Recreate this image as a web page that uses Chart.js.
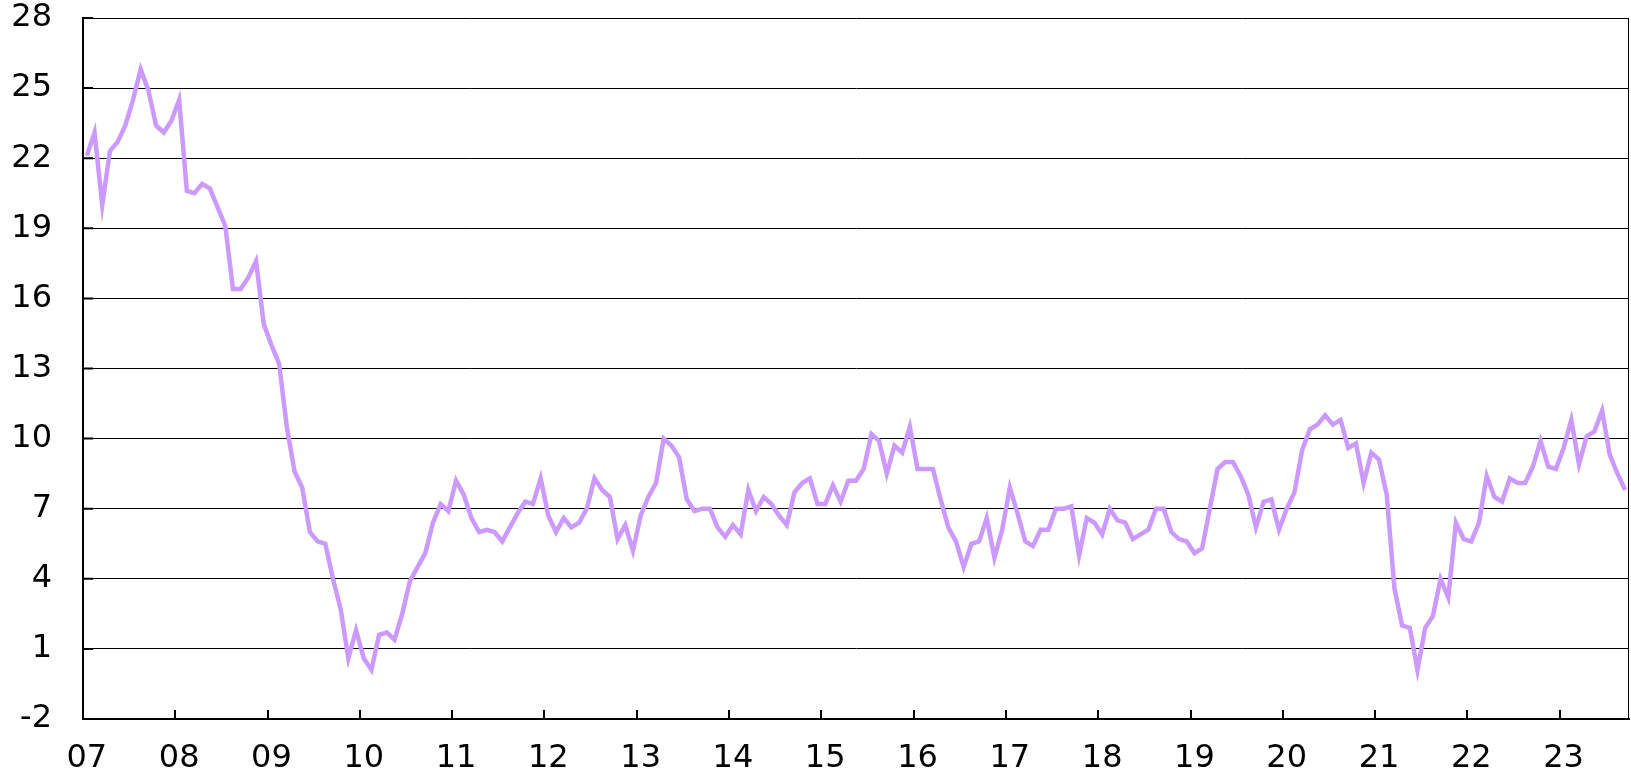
<!DOCTYPE html>
<html>
<head>
<meta charset="utf-8">
<script src="https://cdn.jsdelivr.net/npm/chart.js@4.4.1/dist/chart.umd.min.js"></script>
<style>
  html, body { margin: 0; padding: 0; overflow: hidden; background: #fff; }
  #myChart { display: block; }
</style>
</head>
<body>
<canvas id="myChart" width="1631" height="776"></canvas>
<script>
// monthly series, Jan 2007 .. Sep 2023
var startYear = 2007;
var yearLabels = ["07", "08", "09", "10", "11", "12", "13", "14", "15", "16", "17", "18", "19", "20", "21", "22", "23"];
var yTicks = [-2, 1, 4, 7, 10, 13, 16, 19, 22, 25, 28];
var values = [
  22.1, 23.1, 20.0, 22.3, 22.7, 23.4, 24.5, 25.8, 24.9, 23.4, 23.1, 23.6, // 07
  24.5, 20.6, 20.5, 20.9, 20.7, 19.9, 19.1, 16.4, 16.4, 16.9, 17.6, 14.9, // 08
  14.0, 13.2, 10.5, 8.6, 7.9, 6.0, 5.6, 5.5, 4.0, 2.7, 0.6, 1.8,          // 09
  0.6, 0.1, 1.6, 1.7, 1.4, 2.5, 3.9, 4.5, 5.1, 6.4, 7.2, 6.9,             // 10
  8.2, 7.6, 6.6, 6.0, 6.1, 6.0, 5.6, 6.2, 6.8, 7.3, 7.2, 8.3,             // 11
  6.7, 6.0, 6.6, 6.2, 6.4, 7.0, 8.3, 7.8, 7.5, 5.7, 6.3, 5.2,             // 12
  6.7, 7.5, 8.1, 10.0, 9.7, 9.2, 7.4, 6.9, 7.0, 7.0, 6.2, 5.8,            // 13
  6.3, 5.9, 7.8, 6.9, 7.5, 7.2, 6.7, 6.3, 7.7, 8.1, 8.3, 7.2,             // 14
  7.2, 8.0, 7.3, 8.2, 8.2, 8.7, 10.2, 9.9, 8.5, 9.7, 9.4, 10.5,           // 15
  8.7, 8.7, 8.7, 7.4, 6.2, 5.6, 4.5, 5.5, 5.6, 6.6, 4.9, 6.1,             // 16
  7.9, 6.8, 5.6, 5.4, 6.1, 6.1, 7.0, 7.0, 7.1, 5.0, 6.6, 6.4,             // 17
  5.9, 7.0, 6.5, 6.4, 5.7, 5.9, 6.1, 7.0, 7.0, 6.0, 5.7, 5.6,             // 18
  5.1, 5.3, 7.0, 8.7, 9.0, 9.0, 8.4, 7.6, 6.2, 7.3, 7.4, 6.1,             // 19
  7.0, 7.7, 9.5, 10.4, 10.6, 11.0, 10.6, 10.8, 9.6, 9.8, 8.1, 9.4,        // 20
  9.1, 7.6, 3.6, 2.0, 1.9, 0.1, 1.9, 2.4, 4.0, 3.2, 6.4, 5.7,             // 21
  5.6, 6.4, 8.4, 7.5, 7.3, 8.3, 8.1, 8.1, 8.8, 9.9, 8.8, 8.7,             // 22
  9.6, 10.8, 8.9, 10.1, 10.3, 11.2, 9.3, 8.5, 7.8                          // 23
];

var months = values.map(function (v, i) {
  var yr = startYear + Math.floor(i / 12);
  var m = (i % 12) + 1;
  return yr + "-" + (m < 10 ? "0" + m : m);
});

var fontSpec = { family: "'DejaVu Sans', sans-serif", size: 32 };

// inward tick marks and right frame line
var innerTicks = {
  id: "innerTicks",
  afterDraw: function (chart) {
    var ctx = chart.ctx;
    var a = chart.chartArea;
    var x = chart.scales.x;
    var y = chart.scales.y;
    ctx.save();
    ctx.strokeStyle = "#000";
    ctx.lineWidth = 1;
    ctx.beginPath();
    ctx.moveTo(a.right - 0.5, a.top);
    ctx.lineTo(a.right - 0.5, a.bottom);
    ctx.stroke();
    ctx.lineWidth = 2;
    ctx.beginPath();
    for (var i = 12; i < months.length; i += 12) {
      var px = Math.round((x.getPixelForValue(i - 1) + x.getPixelForValue(i)) / 2);
      ctx.moveTo(px, a.bottom);
      ctx.lineTo(px, a.bottom - 9);
    }
    yTicks.forEach(function (v) {
      var py = y.getPixelForValue(v);
      ctx.moveTo(a.left, py);
      ctx.lineTo(a.left + 10, py);
    });
    ctx.stroke();
    ctx.restore();
  }
};

var ctx = document.getElementById("myChart").getContext("2d");
var myChart = new Chart(ctx, {
  type: "line",
  data: {
    labels: months,
    datasets: [
      {
        data: values,
        borderColor: "#cc99ff",
        borderWidth: 4.5,
        pointRadius: 0,
        tension: 0,
        fill: false
      }
    ]
  },
  options: {
    responsive: false,
    animation: false,
    devicePixelRatio: 1,
    layout: { padding: { top: 18, right: 2, left: 0, bottom: 0 } },
    plugins: {
      legend: { display: false },
      tooltip: { enabled: false }
    },
    scales: {
      x: {
        type: "category",
        offset: true,
        grid: { display: true, drawOnChartArea: false, drawTicks: false, offset: true },
        border: { color: "#000", width: 2 },
        ticks: {
          autoSkip: false,
          maxRotation: 0,
          minRotation: 0,
          padding: 20,
          color: "#000",
          font: fontSpec,
          callback: function (val, idx) {
            return idx % 12 === 0 ? yearLabels[idx / 12] : "";
          }
        },
        afterFit: function (scale) {
          scale.height = 57;
          scale.paddingLeft = 0;
          scale.paddingRight = 0;
        }
      },
      y: {
        min: -2,
        max: 28,
        grid: { color: "#000", lineWidth: 1, drawTicks: false },
        border: { color: "#000", width: 2 },
        ticks: {
          stepSize: 3,
          padding: 31,
          color: "#000",
          font: fontSpec
        },
        afterBuildTicks: function (scale) {
          scale.ticks = yTicks.map(function (v) { return { value: v }; });
        },
        afterFit: function (scale) {
          scale.width = 83;
          scale.paddingTop = 0;
          scale.paddingBottom = 0;
        }
      }
    }
  },
  plugins: [innerTicks]
});
</script>
</body>
</html>
